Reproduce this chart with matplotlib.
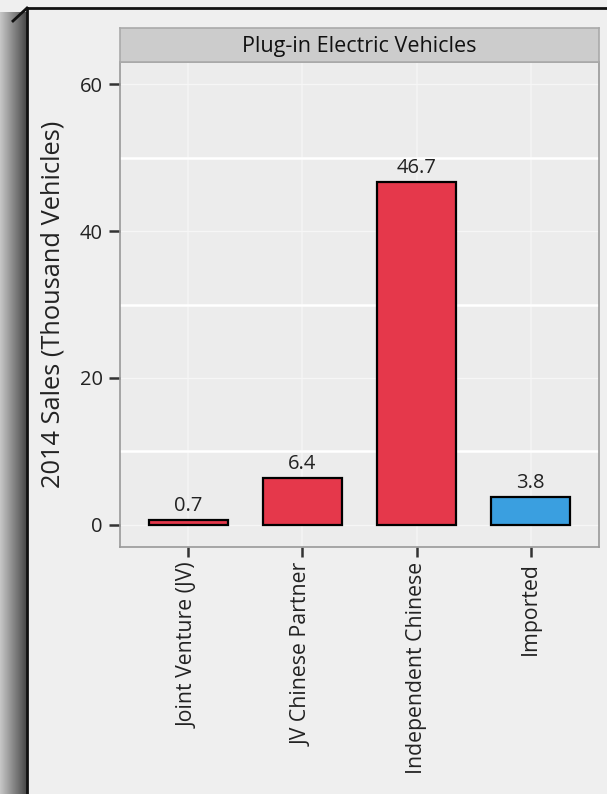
import numpy as np
import matplotlib
matplotlib.use("Agg")
import matplotlib.pyplot as plt
from matplotlib.lines import Line2D

categories = ["Joint Venture (JV)", "JV Chinese Partner", "Independent Chinese", "Imported"]
sales = [0.7, 6.4, 46.7, 3.8]
bar_colors = ["#e5384b", "#e5384b", "#e5384b", "#3a9fe0"]
title = "Plug-in Electric Vehicles"
ylabel = "2014 Sales (Thousand Vehicles)"
yticks = [0, 20, 40, 60]
yminor = [10, 30, 50]

plt.rcParams['font.family'] = ['Open Sans', 'DejaVu Sans']

W, H = 607, 794
fig = plt.figure(figsize=(W / 100, H / 100), dpi=100, facecolor="#efefef")

def fx(px):
    return px / W

def fy(py):
    return 1 - py / H

# left shadow gradient
sh = fig.add_axes([0, 0, fx(27), fy(12)])
grad = np.linspace(0.78, 0.28, 64)[None, :]
sh.imshow(np.repeat(grad, 2, axis=0), cmap="gray", vmin=0, vmax=1, aspect="auto",
          extent=[0, 1, 0, 1])
sh.set_axis_off()

# frame lines
fig.add_artist(Line2D([fx(27), 1], [fy(8), fy(8)], color="#111111", lw=2.0))
fig.add_artist(Line2D([fx(27), fx(27)], [0, fy(8)], color="#111111", lw=2.0))
fig.add_artist(Line2D([fx(13), fx(27)], [fy(21), fy(8)], color="#111111", lw=2.0))

# main panel
ax = fig.add_axes([fx(120), fy(547), fx(599) - fx(120), fy(62) - fy(547)])
ax.set_facecolor("#ececec")
x = np.arange(1, len(categories) + 1)
ax.bar(x, sales, width=0.7, color=bar_colors, edgecolor="black", linewidth=1.6, zorder=3)
for xi, v in zip(x, sales):
    ax.text(xi, v + 0.5, f"{v:.1f}", ha="center", va="bottom", fontsize=14.5,
            color="#222222", zorder=4)

ax.set_xlim(0.4, 4.6)
ax.set_ylim(-3, 63)
ax.set_yticks(yticks)
ax.set_yticks(yminor, minor=True)
ax.set_xticks(x)
ax.set_xticklabels(categories, rotation=90, fontsize=15.3, color="#222222")
ax.tick_params(axis="y", which="major", labelsize=14.5, labelcolor="#222222",
               length=8, width=1.8, color="#333333", pad=4.5)
ax.tick_params(axis="y", which="minor", length=0)
ax.tick_params(axis="x", length=7, width=1.8, color="#333333", pad=4)
ax.grid(True, which="major", axis="y", color="#f6f6f6", lw=1.0, zorder=0)
ax.grid(True, which="minor", axis="y", color="#ffffff", lw=1.8, zorder=0)
ax.grid(True, which="major", axis="x", color="#f4f4f4", lw=1.2, zorder=0)
for s in ax.spines.values():
    s.set_color("#999999")
    s.set_linewidth(1.2)
ax.set_ylabel(ylabel, fontsize=18.3, color="#222222")
ax.yaxis.set_label_coords((53 - 120) / 479, 0.5)
ax.yaxis.label.set_verticalalignment("center")

# strip
strip = fig.add_axes([fx(120), fy(62), fx(599) - fx(120), fy(28) - fy(62)])
strip.set_facecolor("#cccccc")
strip.set_xticks([])
strip.set_yticks([])
for s in strip.spines.values():
    s.set_color("#aaaaaa")
    s.set_linewidth(1.2)
strip.text(0.5, 0.47, title, ha="center", va="center", fontsize=15.5, color="#111111",
           transform=strip.transAxes)

fig.savefig("out.png", dpi=100, facecolor=fig.get_facecolor())
